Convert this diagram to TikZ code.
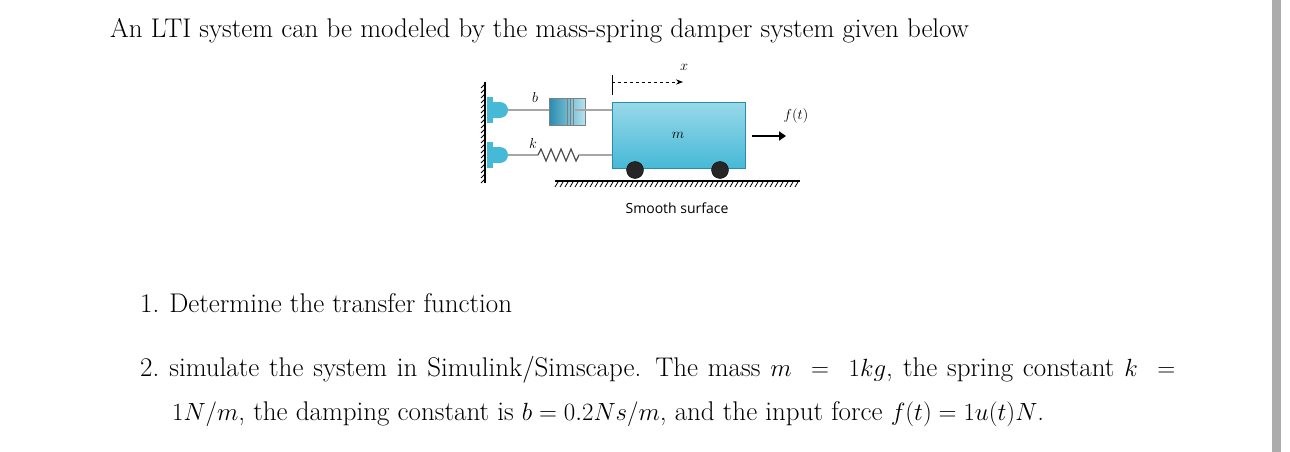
\documentclass[tikz,border=0pt]{standalone}
\usepackage{fontspec}
\newfontfamily\sansf{Open Sans}
\usetikzlibrary{patterns,arrows.meta,decorations.pathmorphing}
\definecolor{boxc}{RGB}{70,185,215}
\definecolor{boxd}{RGB}{40,140,175}
\begin{document}
\begin{tikzpicture}[x=1pt,y=-1pt,
  txt/.style={anchor=base west,inner sep=0,font=\fontsize{27}{32}\selectfont},
  hatch/.style={line width=0.8pt},
  lab/.style={font=\fontsize{14}{14}\selectfont},
  rod/.style={draw=gray!70,line width=1.6pt}]
\useasboundingbox (0,0) rectangle (1290,452);
\fill[gray!65] (1272,0) rectangle (1281,452);
\node[txt] (t1) at (110,38) {An LTI system can be modeled by the mass-spring damper system given below};
\node[txt] (t2) at (140,312) {1.\hspace{10pt}Determine the transfer function};
\node[txt] (t3) at (140,376) {\makebox[1035pt][s]{2.\hspace{10pt}simulate the system in Simulink/Simscape.\hspace{14pt}The mass $m\ =\ 1kg$, the spring constant $k\ =$}};
\node[txt] (t4) at (172,420) {$1N/m$, the damping constant is $b=0.2Ns/m$, and the input force $f(t)=1u(t)N$.};
% wall
\draw[line width=1.6pt] (485,82) -- (485,183);
\foreach \y in {84,89,...,182} \draw[hatch] (485,\y) -- (481,\y+4);
% mounts
\foreach \y in {110,155}{
  \fill[boxc] (487,\y-13) rectangle (493,\y+13);
  \fill[boxc] (493,\y-8) -- (500,\y-8) arc (-90:90:8) -- (493,\y+8) -- cycle;
}
% damper
\draw[rod] (508,110) -- (549,110);
\shade[left color=boxd,right color=boxc!40,draw=gray] (549,98) rectangle (585,125);
\draw[gray] (567,98) -- (567,125) (570,98)--(570,125) (573,98)--(573,125);
\draw[rod] (575,110) -- (612,110);
% spring
\draw[rod] (508,155) -- (538,155);
\draw[gray!60!black,line width=1.2pt] (538,155) -- (541,149) -- (546,161) -- (551,149) -- (556,161) -- (561,149) -- (566,161) -- (571,149) -- (576,161) -- (579,155);
\draw[rod] (579,155) -- (612,155);
% mass
\shade[top color=boxc!55,bottom color=boxc,draw=boxd] (612,102) rectangle (745,168);
\node[lab] (m) at (678,135) {$m$};
% wheels
\foreach \x in {635,720} \fill[gray!30!black,draw=black] (\x,170) circle (8.5);
% ground
\draw[line width=1.5pt] (555,181) -- (800,181);
\foreach \x in {558,563,...,800} \draw[hatch] (\x,182) -- (\x-3,187);
% labels
\node[lab] (b) at (535,97) {$b$};
\node[lab] (k) at (533,143) {$k$};
\node[lab] (x) at (684,67) {$x$};
\node[lab] (f) at (796,116) {$f(t)$};
\coordinate (xa) at (612,82); \coordinate (xb) at (683,82);
\draw[line width=0.8pt] (612,75) -- (612,95);
\draw[dashed,line width=0.9pt,-{Stealth[length=7pt]}] (xa) -- (xb);
\coordinate (fa) at (752,136); \coordinate (fb) at (786,136);
\draw[line width=2.5pt,-{Triangle[length=7pt,width=9pt]}] (fa) -- (fb);
\node[font=\sansf\fontsize{14}{14}\selectfont] (ss) at (677,208) {Smooth surface};
\end{tikzpicture}
\end{document}
